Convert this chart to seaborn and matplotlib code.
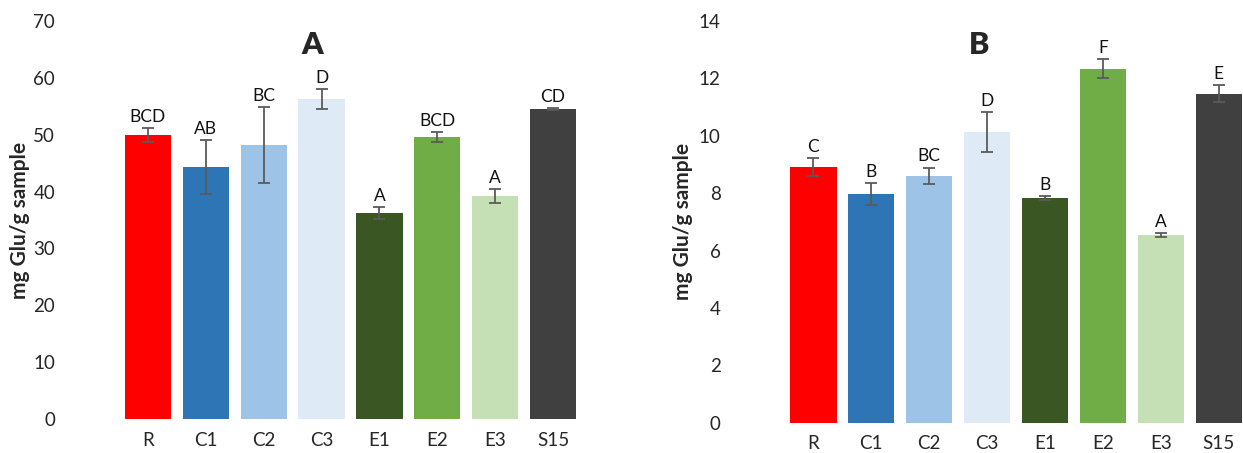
import matplotlib
matplotlib.use("Agg")
import matplotlib.pyplot as plt
import seaborn as sns
import pandas as pd

samples = ["R", "C1", "C2", "C3", "E1", "E2", "E3", "S15"]
colors = ["#FF0000", "#2E75B6", "#9DC3E6", "#DEEBF7",
          "#3A5723", "#70AD47", "#C5E0B4", "#404040"]

# Panel A
values_a = [49.9, 44.3, 48.2, 56.3, 36.2, 49.6, 39.2, 54.5]
errors_a = [1.2, 4.7, 6.7, 1.7, 1.1, 0.85, 1.25, 0.2]
letters_a = ["BCD", "AB", "BC", "D", "A", "BCD", "A", "CD"]

# Panel B
values_b = [8.91, 7.97, 8.60, 10.13, 7.83, 12.33, 6.54, 11.46]
errors_b = [0.32, 0.37, 0.29, 0.69, 0.07, 0.33, 0.06, 0.30]
letters_b = ["C", "B", "BC", "D", "B", "F", "A", "E"]

sns.set_style("white")
plt.rcParams["font.family"] = ["Lato", "DejaVu Sans"]

W, H = 1243, 453
fig = plt.figure(figsize=(W / 100, H / 100), dpi=100)


def px_axes(left, top, right, bottom):
    return fig.add_axes([left / W, 1 - bottom / H, (right - left) / W, (bottom - top) / H])


def draw_panel(ax, values, errors, letters, ymax, ystep, xright, label_dx):
    df = pd.DataFrame({"sample": samples, "value": values})
    sns.barplot(data=df, x="sample", y="value", hue="sample", palette=colors,
                order=samples, hue_order=samples, width=0.8, dodge=False,
                legend=False, errorbar=None, saturation=1, linewidth=0, ax=ax)
    ax.errorbar(range(len(samples)), values, yerr=errors, fmt="none",
                ecolor="#5A5A5A", elinewidth=1.3, capsize=4, capthick=1.3, zorder=3)
    for i, (v, e, lab) in enumerate(zip(values, errors, letters)):
        ax.annotate(lab, (i, v + e), xytext=(0, 4.5), textcoords="offset points",
                    ha="center", va="baseline", fontsize=12.5, color="#111111")
    ax.set_xlim(-0.5, xright)
    ax.set_ylim(0, ymax)
    ax.set_yticks(range(0, ymax + 1, ystep))
    ax.set_xlabel("")
    ax.set_ylabel("mg Glu/g sample", fontsize=15, fontweight="bold", va="center")
    width_px = ax.get_position().width * W
    ax.yaxis.set_label_coords(label_dx / width_px, 0.5)
    ax.tick_params(axis="y", length=0, pad=46, labelsize=13.5)
    ax.tick_params(axis="x", length=0, pad=9, labelsize=13.5)
    for s in ax.spines.values():
        s.set_visible(False)
    ax.grid(False)


ax_a = px_axes(119, 21, 582, 419)
draw_panel(ax_a, values_a, errors_a, letters_a, 70, 10, 7.5, -99)
ax_b = px_axes(784.5, 21, 1243, 422.7)
draw_panel(ax_b, values_b, errors_b, letters_b, 14, 2, 7.42, -101.5)

fig.text(312 / W, 1 - 45 / H, "A", fontsize=22, fontweight="heavy", ha="center", va="center")
fig.text(979 / W, 1 - 45 / H, "B", fontsize=22, fontweight="heavy", ha="center", va="center")

fig.savefig("out.png", dpi=100, facecolor="white")
